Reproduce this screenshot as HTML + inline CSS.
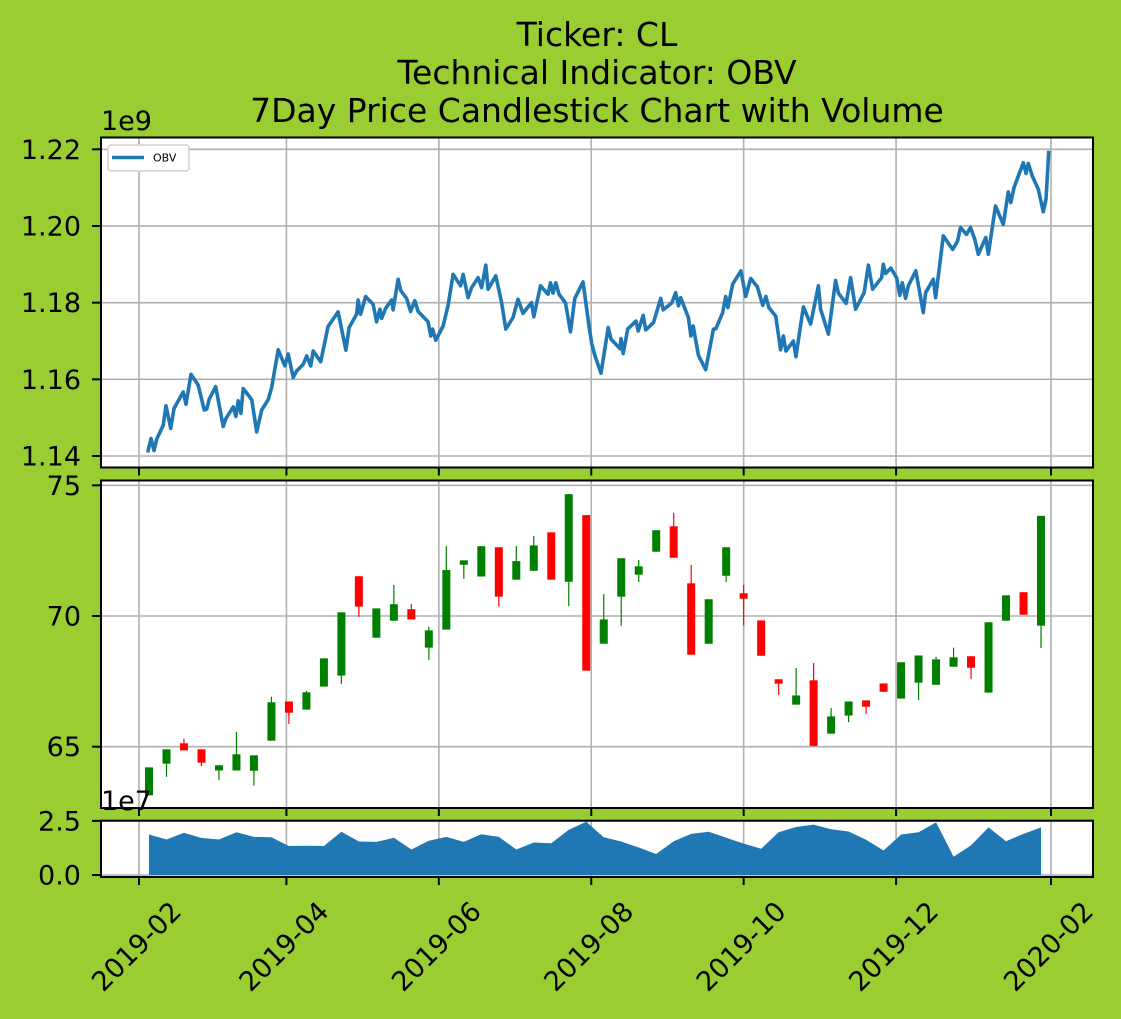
<!DOCTYPE html>
<html><head><meta charset="utf-8"><style>
html,body{margin:0;padding:0;background:#9acd32;}
svg{display:block;font-family:"DejaVu Sans","Liberation Sans",sans-serif;}
</style></head><body>
<svg id="chart" width="1121" height="1019" viewBox="0 0 1121 1019" xmlns="http://www.w3.org/2000/svg">
<rect x="0" y="0" width="1121" height="1019" fill="#9acd32"/>
<g font-size="33" text-anchor="middle" fill="#000">
<text x="597" y="46">Ticker: CL</text>
<text x="597" y="84">Technical Indicator: OBV</text>
<text x="597" y="122">7Day Price Candlestick Chart with Volume</text>
</g>
<g id="g"></g>
</svg>
<script>
// ---- data ----
const xTickLabels = ["2019-02","2019-04","2019-06","2019-08","2019-10","2019-12","2020-02"];
const xTickDays = [0,59,120,181,242,303,365];
const obvTicks = [1.14,1.16,1.18,1.20,1.22];
const priceTicks = [65,70,75];
const volTicks = [0.0,2.5];
// OBV (1e6 units) with day offsets from 2019-02-01
const obvDays = [3.5,4.8,6.0,7.1,9.7,10.8,12.7,14.0,17.7,18.8,20.8,23.7,26.1,27.1,28.1,30.7,33.7,34.8,37.7,38.8,39.7,40.8,41.7,45.1,47.1,49.1,51.7,53.1,55.7,58.4,59.7,61.7,63.1,65.7,67.1,68.7,69.7,72.7,75.7,79.7,82.8,84.1,87.1,87.7,88.7,90.7,93.7,95.1,96.4,97.1,98.7,101.1,101.7,103.7,104.8,107.1,108.7,110.4,111.7,115.7,116.8,117.5,118.8,121.7,123.7,125.7,128.7,129.7,131.7,133.1,135.7,137.1,138.8,139.7,142.8,145.1,146.8,149.7,151.7,153.7,157.1,158.0,160.7,163.7,164.7,165.7,166.8,168.1,170.7,172.7,174.4,177.7,180.1,181.2,182.5,184.9,187.8,188.9,192.5,192.9,193.8,195.6,198.9,199.8,201.8,202.8,205.9,208.8,209.8,213.2,214.8,215.9,216.8,219.9,220.9,221.8,223.9,226.8,229.9,230.9,233.6,234.8,235.7,237.6,240.9,242.8,244.8,247.5,249.6,250.9,252.1,254.8,256.8,257.9,258.9,261.9,262.9,265.9,268.8,271.9,272.8,275.9,278.8,279.9,283.0,284.8,286.8,290.2,291.9,293.6,297.2,297.9,298.8,300.9,303.2,304.5,305.5,306.8,307.9,310.9,313.9,314.8,317.9,318.8,321.9,325.6,327.6,328.8,331.2,332.8,334.5,335.9,338.9,339.9,342.8,345.9,347.9,348.9,350.2,353.9,355.0,355.9,357.5,359.9,361.9,363.0,364.1];
const obvValues = [1140.9,1144.6,1141.4,1144.4,1148.0,1153.1,1147.2,1152.4,1156.7,1153.5,1161.3,1158.5,1152.0,1152.2,1154.8,1158.1,1147.7,1149.8,1152.8,1150.3,1154.4,1151.1,1157.6,1154.7,1146.3,1152.0,1154.7,1157.9,1167.7,1163.5,1166.6,1160.5,1162.2,1163.9,1166.1,1163.5,1167.4,1164.6,1173.8,1177.6,1167.6,1173.5,1177.0,1180.7,1177.0,1181.6,1179.6,1175.0,1178.3,1175.9,1178.5,1180.7,1178.1,1186.1,1183.1,1181.1,1177.7,1180.5,1177.7,1175.0,1171.3,1173.1,1170.2,1173.9,1179.3,1187.4,1184.4,1187.4,1181.3,1183.9,1186.5,1183.9,1189.8,1183.5,1187.0,1180.0,1173.1,1176.1,1180.9,1177.2,1180.0,1176.3,1184.4,1182.2,1185.2,1182.5,1185.2,1182.2,1179.9,1172.4,1181.1,1185.4,1173.9,1169.2,1166.1,1161.6,1173.5,1170.5,1168.0,1170.6,1166.7,1173.1,1175.2,1172.6,1176.7,1172.9,1174.8,1181.1,1178.1,1179.9,1182.6,1179.2,1181.3,1176.1,1171.3,1173.9,1166.3,1162.5,1173.1,1173.2,1177.4,1181.6,1178.7,1184.8,1188.3,1181.6,1186.3,1184.1,1179.3,1181.6,1178.7,1176.5,1167.7,1171.3,1167.4,1170.0,1165.9,1178.9,1174.4,1184.4,1178.3,1171.8,1185.8,1182.5,1179.8,1186.5,1178.3,1182.6,1189.8,1183.5,1186.5,1190.0,1187.6,1189.0,1186.5,1181.9,1185.2,1181.1,1184.4,1188.3,1177.4,1182.6,1186.1,1181.3,1197.4,1193.9,1196.1,1199.6,1197.8,1199.6,1196.5,1192.6,1197.0,1192.6,1205.2,1200.4,1208.9,1206.1,1210.0,1216.5,1213.7,1216.3,1213.0,1209.6,1203.7,1207.0,1219.6];
// weekly candles
const openP  = [63.14,64.35,65.13,64.90,64.09,64.09,64.08,65.23,66.73,66.42,67.30,67.72,71.52,69.17,69.82,70.26,68.79,69.48,71.96,71.51,72.63,71.39,71.73,73.20,71.31,73.86,68.94,70.74,71.58,72.46,73.43,71.25,68.94,71.54,70.87,69.83,67.58,66.61,67.54,65.50,66.19,66.77,67.42,66.84,67.45,67.37,68.06,68.46,67.07,69.82,70.91,69.63];
const closeP = [64.21,64.90,64.86,64.39,64.29,64.71,64.67,66.70,66.30,67.08,68.38,70.14,70.36,70.29,70.45,69.87,69.45,71.76,72.13,72.67,70.74,72.10,72.70,71.39,74.66,67.91,69.87,72.21,71.90,73.28,72.23,68.52,70.64,72.63,70.66,68.48,67.41,66.96,65.03,66.16,66.73,66.53,67.10,68.23,68.49,68.34,68.42,68.02,69.76,70.79,70.05,73.83];
const highP  = [64.21,64.90,65.31,64.90,64.29,65.57,64.67,66.91,66.73,67.14,68.38,70.14,71.52,70.29,71.19,70.46,69.59,72.68,72.13,72.67,72.63,72.68,73.06,73.20,74.66,73.86,70.84,72.21,72.14,73.28,73.95,71.95,70.64,72.63,71.19,69.83,67.58,68.01,68.20,66.48,66.73,66.77,67.42,68.23,68.49,68.44,68.79,68.46,69.76,70.79,70.91,73.83];
const lowP   = [63.14,63.85,64.86,64.26,63.72,64.09,63.51,65.23,65.87,66.42,67.30,67.40,69.97,69.17,69.82,69.87,68.32,69.48,71.42,71.51,70.36,71.39,71.73,71.39,70.38,67.91,68.94,69.63,71.30,72.46,72.23,68.52,68.94,71.30,69.63,68.48,66.98,66.61,65.03,65.50,65.94,66.25,67.10,66.84,66.79,67.37,68.06,67.59,67.07,69.82,70.05,68.78];
const volume = [1.87,1.64,1.95,1.71,1.64,1.98,1.76,1.74,1.34,1.35,1.34,2.00,1.55,1.53,1.72,1.18,1.58,1.76,1.53,1.88,1.76,1.18,1.50,1.47,2.09,2.46,1.74,1.55,1.27,0.97,1.56,1.90,2.00,1.72,1.45,1.21,1.98,2.22,2.33,2.11,2.01,1.63,1.13,1.87,1.98,2.43,0.84,1.37,2.20,1.56,1.90,2.20];
const firstWeekDay = 4, weekStep = 7;

// ---- layout ----
const L=101, R=1093;
const P1={t:137.5,b:467.5}, P2={t:480.5,b:808}, P3={t:820.7,b:877};
const xs = d => 139 + d*(1051-139)/365;
const yObv = v => 456 - (v-1140)*(456-149.3)/80;
const yPrice = p => 616 - (p-70)*(746.7-616)/5;
const yVol = v => 875 - v*(875-820.9)/2.5;
const NS="http://www.w3.org/2000/svg";
const g=document.getElementById('g');
function mk(tag, attrs, parent){const e=document.createElementNS(NS,tag);for(const k in attrs)e.setAttribute(k,attrs[k]);(parent||g).appendChild(e);return e;}

function panel(P,name){
  const r=mk('rect',{x:L,y:P.t,width:R-L,height:P.b-P.t,fill:'#fff'});
  
  
  const gg=mk('g',{});
  
  
  xTickDays.forEach(d=>{mk('line',{x1:xs(d),x2:xs(d),y1:P.t,y2:P.b,stroke:'#b0b0b0','stroke-width':1.6},gg);});
  return gg;
}
function frame(P,name){
  const r=mk('rect',{x:L,y:P.t,width:R-L,height:P.b-P.t,fill:'none',stroke:'#000','stroke-width':2});
  
  
  const tg=mk('g',{});
  
  
  xTickDays.forEach(d=>{mk('line',{x1:xs(d),x2:xs(d),y1:P.b,y2:P.b+8,stroke:'#000','stroke-width':2},tg);});
}
function yAxis(ticks,fn,P,name,fmt){
  const ag=mk('g',{});
  
  
  ticks.forEach(t=>{
    const y=fn(t);
    mk('line',{x1:L,x2:R,y1:y,y2:y,stroke:'#b0b0b0','stroke-width':1.6},ag);
    mk('line',{x1:L-9,x2:L,y1:y,y2:y,stroke:'#000','stroke-width':2},ag);
    const tx=mk('text',{x:L-20,y:y+9.5,'font-size':27,'text-anchor':'end',fill:'#000'},ag);
    tx.textContent=fmt(t);
    
    
  });
}

// Panel 1: OBV
panel(P1,'obv-panel');
yAxis(obvTicks,v=>yObv(v*1000),P1,'obv',t=>t.toFixed(2));
let d='';
obvDays.forEach((dd,i)=>{d+=(i?'L':'M')+xs(dd).toFixed(1)+','+yObv(obvValues[i]).toFixed(1);});
const obvLine=mk('path',{d:d,fill:'none',stroke:'#1f77b4','stroke-width':3.6,'stroke-linejoin':'round'});


frame(P1,'obv-panel');
const lg=mk('g',{});


mk('rect',{x:108,y:145,width:81,height:26,rx:3,fill:'#fff',stroke:'#d0d0d0','stroke-width':1.5},lg);
mk('line',{x1:112,x2:144,y1:157.5,y2:157.5,stroke:'#1f77b4','stroke-width':3.6},lg);
const lt=mk('text',{x:153,y:161.5,'font-size':11,fill:'#000'},lg);
lt.textContent='OBV';
const e9=mk('text',{x:101,y:130,'font-size':27,fill:'#000'});
e9.textContent='1e9';



// Panel 2: candles
panel(P2,'price-panel');
yAxis(priceTicks,yPrice,P2,'price',t=>String(t));
const cg=mk('g',{});


openP.forEach((o,i)=>{
  const c=closeP[i], x=xs(firstWeekDay+weekStep*i);
  const col = c>=o ? '#008000' : '#ff0000';
  const w=mk('line',{x1:x,x2:x,y1:yPrice(highP[i]),y2:yPrice(lowP[i]),stroke:col,'stroke-width':1.2},cg);
  
  
  const top=yPrice(Math.max(o,c)), bot=yPrice(Math.min(o,c));
  const b=mk('rect',{x:x-4,y:top,width:8,height:Math.max(bot-top,1),fill:col},cg);
  
  
});
frame(P2,'price-panel');

// Panel 3: volume
panel(P3,'volume-panel');
yAxis(volTicks,yVol,P3,'volume',t=>t.toFixed(1));
let vd='M'+xs(firstWeekDay).toFixed(1)+','+yVol(0);
volume.forEach((v,i)=>{vd+='L'+xs(firstWeekDay+weekStep*i).toFixed(1)+','+yVol(v).toFixed(1);});
vd+='L'+xs(firstWeekDay+weekStep*(volume.length-1)).toFixed(1)+','+yVol(0)+'Z';
const va=mk('path',{d:vd,fill:'#1f77b4'});


frame(P3,'volume-panel');
const e7=mk('text',{x:101,y:810,'font-size':27,fill:'#000'});
e7.textContent='1e7';



// x labels
xTickLabels.forEach((lab,i)=>{
  const x=xs(xTickDays[i]);
  const t=mk('text',{x:x-2,y:947,'font-size':27,'text-anchor':'middle','dominant-baseline':'central',fill:'#000',transform:'rotate(-45 '+(x-2)+' 947)'});
  t.textContent=lab;
  
  
});
</script>
</body></html>
